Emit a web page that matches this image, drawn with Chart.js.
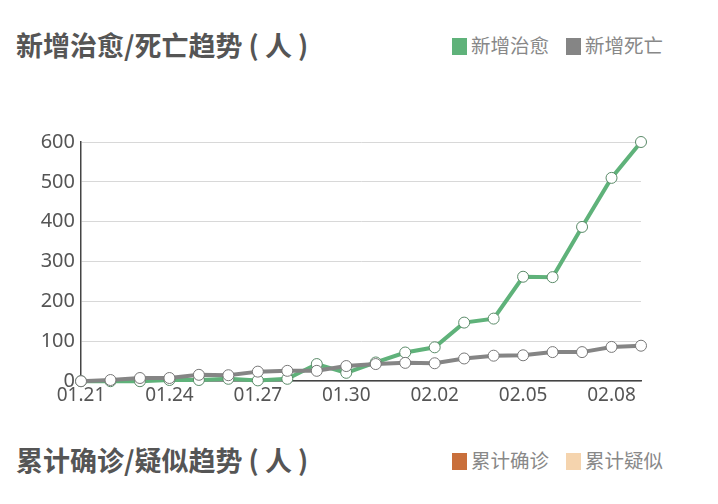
<!DOCTYPE html>
<html>
<head>
<meta charset="utf-8">
<script src="https://cdn.jsdelivr.net/npm/chart.js@4/dist/chart.umd.min.js"></script>
<style>
  html, body { margin: 0; padding: 0; background: #fff; }
  body { width: 718px; height: 504px; position: relative; overflow: hidden;
         font-family: "Noto Sans CJK SC", "Noto Sans", sans-serif; }
  .head { position: absolute; left: 16px; width: 690px; height: 34px; }
  .title { position: absolute; left: 0; top: 0; font-size: 27px; font-weight: bold;
           color: #555; line-height: 34px; white-space: nowrap; }
  .legend { position: absolute; left: 436px; top: 0; line-height: 34px; font-size: 19.5px;
            color: #888; white-space: nowrap; }
  .legend span.sw { display: inline-block; width: 15px; height: 17px; vertical-align: -2px; margin-right: 4px; }
  .legend span.item { margin-right: 17px; }
  #wrap { position: absolute; left: 0; top: 100px; width: 718px; height: 310px; }
</style>
</head>
<body>
<div class="head" style="top:28px">
  <div class="title">新增治愈/死亡趋势 ( 人 )</div>
  <div class="legend">
    <span class="item"><span class="sw" style="background:#5fb27a"></span>新增治愈</span><span class="item"><span class="sw" style="background:#858585"></span>新增死亡</span>
  </div>
</div>
<div id="wrap"><canvas id="trendChart"></canvas></div>
<div class="head" style="top:443px">
  <div class="title">累计确诊/疑似趋势 ( 人 )</div>
  <div class="legend">
    <span class="item"><span class="sw" style="background:#c96f3b"></span>累计确诊</span><span class="item"><span class="sw" style="background:#f5d4ae"></span>累计疑似</span>
  </div>
</div>
<script>
const dates = ["01.21", "01.22", "01.23", "01.24", "01.25", "01.26", "01.27", "01.28", "01.29", "01.30",
               "01.31", "02.01", "02.02", "02.03", "02.04", "02.05", "02.06", "02.07", "02.08", "02.09"];
const cured = [0, 0, 0, 3, 3, 6, 2, 6, 43, 21, 47, 72, 85, 147, 157, 262, 261, 387, 510, 600];
const deaths = [0, 3, 8, 8, 16, 15, 24, 26, 26, 38, 43, 46, 45, 57, 64, 65, 73, 73, 86, 89];
const yTicks = [0, 100, 200, 300, 400, 500, 600];

const ctx = document.getElementById("trendChart").getContext("2d");

const trendChart = new Chart(ctx, {
    type: "line",
    data: {
        labels: dates,
        datasets: [{
            label: "新增死亡",
            data: deaths,
            borderColor: "#858585",
            borderWidth: 4,
            pointRadius: 5.5,
            pointBackgroundColor: "#fff",
            pointBorderColor: "#777",
            pointBorderWidth: 1,
            tension: 0,
            clip: false,
            fill: false
        }, {
            label: "新增治愈",
            data: cured,
            borderColor: "#5fb27a",
            borderWidth: 4,
            pointRadius: 5.5,
            pointBackgroundColor: "#fff",
            pointBorderColor: "#5a8a68",
            pointBorderWidth: 1,
            tension: 0,
            clip: false,
            fill: false
        }]
    },
    options: {
        responsive: true,
        maintainAspectRatio: false,
        animation: false,
        layout: { padding: { top: 42, right: 77, bottom: 0, left: 0 } },
        plugins: { legend: { display: false }, tooltip: { enabled: false } },
        scales: {
            x: {
                offset: false,
                grid: { display: false, drawTicks: false },
                border: { display: true, color: "#444", width: 1.5 },
                ticks: {
                    autoSkip: false,
                    maxRotation: 0,
                    padding: 3,
                    color: "#555",
                    font: { size: 19, family: "'Noto Sans', sans-serif" },
                    callback: (v, i) => i % 3 === 0 ? dates[i] : ""
                }
            },
            y: {
                min: 0,
                max: 600,
                afterFit: (s) => { s.width = 81; },
                afterBuildTicks: (s) => { s.ticks = yTicks.map(v => ({ value: v })); },
                grid: { color: "#d8d8d8", drawTicks: false },
                border: { display: true, color: "#444", width: 1.5 },
                ticks: {
                    padding: 6,
                    color: "#555",
                    font: { size: 20, family: "'Noto Sans', sans-serif" }
                }
            }
        }
    }
});
</script>
</body>
</html>
